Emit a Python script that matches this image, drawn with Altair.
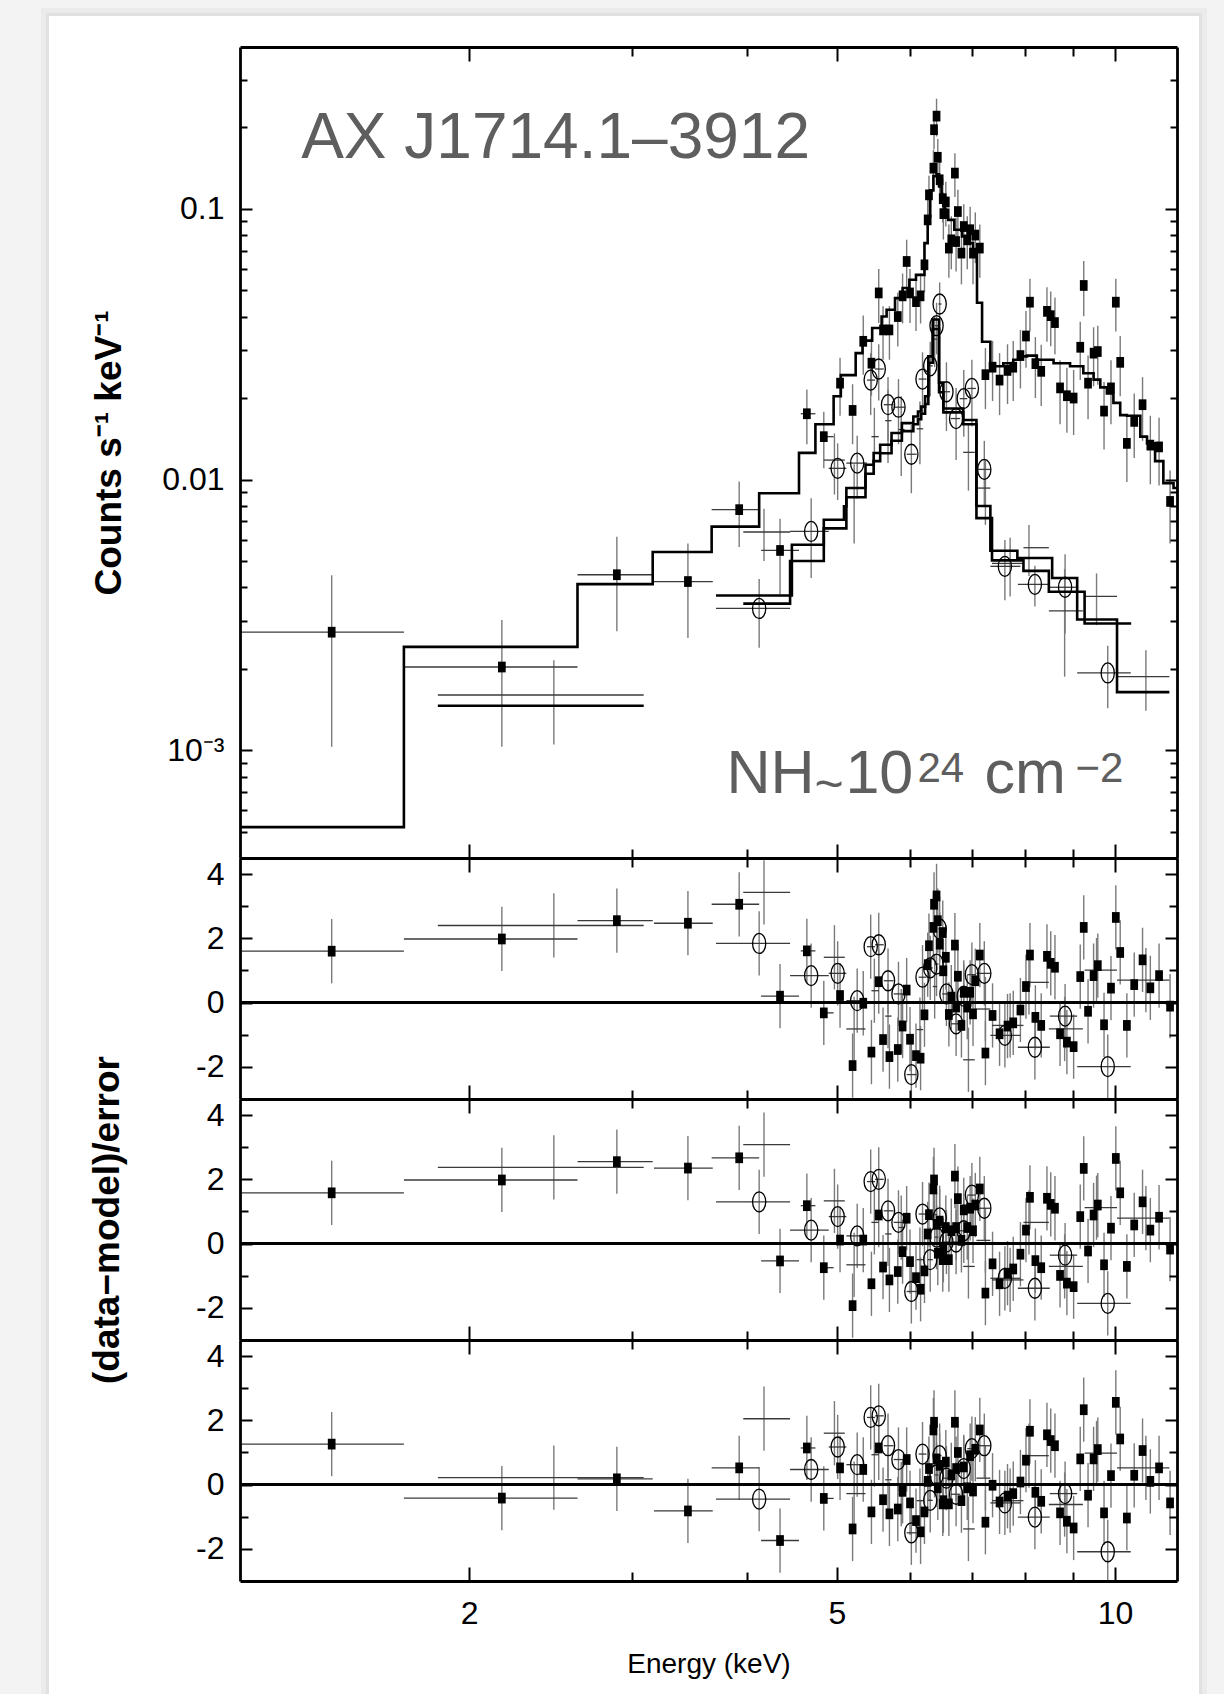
import altair as alt
import pandas as pd

# ---------------------------------------------------------------------------
# Filled squares (detector 1): energy [keV], rate [counts/s/keV], 1-sigma error
# ---------------------------------------------------------------------------
A_E = [1.42, 2.17, 2.89, 3.45, 3.92, 4.34, 4.64, 4.84, 5.04, 5.20,
       5.34, 5.45, 5.55, 5.61, 5.70, 5.82, 5.89, 5.95, 6.00, 6.09,
       6.16, 6.22, 6.27, 6.29, 6.36, 6.37, 6.41, 6.43, 6.46, 6.51,
       6.52, 6.56, 6.61, 6.65, 6.71, 6.73, 6.76, 6.82, 6.86, 6.92,
       6.97, 7.02, 7.06, 7.14, 7.24, 7.37, 7.50, 7.65, 7.76, 7.90,
       8.01, 8.09, 8.20, 8.32, 8.44, 8.52, 8.61, 8.72, 8.87, 9.02,
       9.17, 9.25, 9.35, 9.48, 9.58, 9.73, 9.90, 10.02, 10.13, 10.30,
       10.49, 10.71, 10.92, 11.16, 11.47]
A_RATE = [2.73e-3, 2.03e-3, 4.45e-3, 4.20e-3, 7.74e-3, 5.47e-3, 0.0175, 0.0144, 0.0227, 0.0180,
          0.0324, 0.0269, 0.0489, 0.0357, 0.0357, 0.0400, 0.0477, 0.0639, 0.0489, 0.0454,
          0.0477, 0.0621, 0.0910, 0.1126, 0.1413, 0.1960, 0.2200, 0.1550, 0.1280, 0.1090,
          0.0960, 0.1060, 0.0716, 0.0768, 0.1355, 0.0757, 0.0977, 0.0686, 0.0860, 0.0768,
          0.0837, 0.0686, 0.0800, 0.0716, 0.0244, 0.0260, 0.0233, 0.0253, 0.0260, 0.0287,
          0.0339, 0.0452, 0.0268, 0.0251, 0.0418, 0.0403, 0.0380, 0.0218, 0.0204, 0.0200,
          0.0308, 0.0521, 0.0227, 0.0293, 0.0297, 0.0179, 0.0218, 0.0452, 0.0271, 0.0136,
          0.0164, 0.0189, 0.0134, 0.0132, 0.0083]
A_ERR = [1.7e-3, 1.0e-3, 1.7e-3, 1.6e-3, 2.1e-3, 1.7e-3, 0.0040, 0.0034, 0.0055, 0.0045,
         0.0080, 0.0065, 0.0110, 0.0080, 0.0080, 0.0090, 0.0100, 0.0130, 0.0110, 0.0100,
         0.0100, 0.0130, 0.0170, 0.0200, 0.0240, 0.0300, 0.0350, 0.0260, 0.0230, 0.0200,
         0.0190, 0.0200, 0.0160, 0.0170, 0.0250, 0.0170, 0.0200, 0.0160, 0.0180, 0.0170,
         0.0180, 0.0160, 0.0170, 0.0160, 0.0062, 0.0065, 0.0060, 0.0063, 0.0065, 0.0070,
         0.0080, 0.0100, 0.0068, 0.0064, 0.0095, 0.0092, 0.0090, 0.0058, 0.0055, 0.0054,
         0.0075, 0.0120, 0.0060, 0.0072, 0.0073, 0.0050, 0.0058, 0.0100, 0.0068, 0.0038,
         0.0044, 0.0050, 0.0038, 0.0037, 0.0025]
# channel-bin limits of the wide low-energy bins (first eight squares)
A_XLO = [1.13, 1.70, 2.62, 3.17, 3.66, 4.14, 4.57, 4.80]
A_XHI = [1.70, 2.62, 3.16, 3.67, 4.12, 4.55, 4.74, 4.96]
# (data-model)/error for the three fitted models
A_RES1 = [1.60, 1.98, 2.55, 2.47, 3.06, 0.20, 1.61, -0.32, 0.22, -1.96,
          -0.02, -1.54, 0.65, -1.15, -1.68, -1.46, -0.73, 0.39, -1.14, -1.65,
          -1.73, -0.38, 1.18, 1.77, 2.34, 3.06, 3.32, 2.55, 1.82, 2.18,
          0.99, 1.41, -0.37, 0.17, 1.79, -0.14, 0.82, -0.71, 0.32, -0.14,
          0.32, -0.35, 0.68, 1.48, -1.57, -0.40, -0.97, -0.73, -0.63, -0.23,
          0.50, 1.48, -0.46, -0.71, 1.44, 1.22, 1.10, -0.97, -1.23, -1.37,
          0.81, 2.34, -0.27, 0.84, 1.15, -0.69, 0.45, 2.65, 1.56, -0.71,
          0.56, 1.33, 0.46, 0.84, -0.11]
A_RES2 = [1.58, 1.98, 2.55, 2.35, 2.67, -0.54, 1.18, -0.75, 0.11, -1.93,
          0.11, -1.25, 0.89, -0.73, -1.13, -0.87, -0.25, 0.79, -0.56, -1.06,
          -1.42, -0.85, 0.30, 0.90, 1.70, 1.98, 0.60, -0.30, 0.70, -0.50,
          -0.20, 0.50, -0.50, 0.40, 2.10, 0.50, 1.40, 0.10, 1.05, 0.50,
          1.10, 0.40, 1.20, 1.70, -1.54, -0.63, -1.25, -0.92, -0.79, -0.33,
          0.42, 1.44, -0.53, -0.75, 1.41, 1.22, 1.10, -0.99, -1.23, -1.34,
          0.84, 2.34, -0.23, 0.89, 1.20, -0.66, 0.48, 2.65, 1.58, -0.71,
          0.58, 1.30, 0.42, 0.82, -0.17]
A_RES3 = [1.26, -0.42, 0.18, -0.82, 0.52, -1.74, 1.14, -0.43, 0.52, -1.38,
          0.47, -0.85, 1.14, -0.47, -0.91, -0.76, -0.21, 0.78, -0.57, -1.12,
          -1.47, -0.85, 0.10, 0.50, 1.70, 1.94, 0.80, -0.10, 0.60, -0.60,
          -0.50, 0.70, -0.60, 0.30, 1.94, 0.50, 1.00, -0.50, 0.55, -0.10,
          0.90, -0.20, 1.10, 1.70, -1.17, -0.02, -0.54, -0.36, -0.28, 0.08,
          0.76, 1.66, -0.24, -0.52, 1.55, 1.37, 1.21, -0.88, -1.14, -1.35,
          0.80, 2.33, -0.33, 0.80, 1.09, -0.88, 0.28, 2.56, 1.42, -1.04,
          0.29, 1.06, 0.10, 0.52, -0.57]

# ---------------------------------------------------------------------------
# Open circles (detector 2)
# ---------------------------------------------------------------------------
B_E = [4.12, 4.69, 5.01, 5.26, 5.44, 5.55, 5.68, 5.83, 6.02, 6.19, 6.31,
       6.41, 6.46, 6.57, 6.73, 6.86, 7.00, 7.22, 7.60, 8.19, 8.83, 9.82]
B_RATE = [3.34e-3, 6.43e-3, 0.0110, 0.0115, 0.0233, 0.0256, 0.0189, 0.0185, 0.0124, 0.0235, 0.0263,
          0.0370, 0.0445, 0.0211, 0.0168, 0.0199, 0.0217, 0.0109, 4.78e-3, 4.10e-3, 4.00e-3, 1.93e-3]
B_ERR = [0.95e-3, 2.1e-3, 2.6e-3, 3.0e-3, 6.0e-3, 6.0e-3, 5.0e-3, 5.0e-3, 3.5e-3, 6.0e-3, 6.0e-3,
         8.0e-3, 9.0e-3, 6.0e-3, 5.0e-3, 5.5e-3, 6.0e-3, 3.0e-3, 1.2e-3, 0.7e-3, 1.3e-3, 0.5e-3]
B_XLO = [3.70, 4.45, 4.90, 5.12, 5.39, 5.50, 5.62, 5.76, 5.95, 6.13, 6.27,
         6.38, 6.44, 6.50, 6.64, 6.79, 6.92, 7.08, 7.33, 7.85, 8.50, 9.10]
B_XHI = [4.45, 4.90, 5.12, 5.39, 5.50, 5.62, 5.76, 5.92, 6.10, 6.25, 6.35,
         6.44, 6.49, 6.63, 6.80, 6.92, 7.07, 7.33, 7.90, 8.50, 9.10, 10.40]
B_RES1 = [1.84, 0.84, 0.91, 0.06, 1.74, 1.80, 0.68, 0.27, -2.24, 0.79, 1.08,
          1.20, 2.29, 0.27, -0.66, 0.20, 0.87, 0.91, -1.02, -1.39, -0.42, -1.99]
B_RES2 = [1.30, 0.42, 0.84, 0.24, 1.93, 2.00, 1.02, 0.66, -1.49, 0.92, -0.50,
          0.20, 0.80, 0.05, 0.05, 0.40, 1.51, 1.10, -1.08, -1.39, -0.36, -1.86]
B_RES3 = [-0.45, 0.47, 1.17, 0.62, 2.09, 2.14, 1.21, 0.78, -1.50, 0.95, -0.49,
          0.30, 0.90, 0.20, -0.30, 0.50, 1.12, 1.21, -0.57, -1.01, -0.28, -2.09]

# ---------------------------------------------------------------------------
# Plain crosses (detector 3)
# ---------------------------------------------------------------------------
C_E = [2.47, 4.17, 4.97, 5.22, 5.49, 5.68, 5.87, 6.15, 6.38, 6.94, 7.24, 7.70, 8.07, 8.82, 9.55, 10.80]
C_RATE = [1.60e-3, 6.4e-3, 0.0118, 8.6e-3, 0.0144, 0.0165, 0.0153, 0.0154, 0.0330, 0.0126,
          9.3e-3, 4.9e-3, 5.6e-3, 3.27e-3, 3.7e-3, 1.87e-3]
C_ERR = [0.55e-3, 1.4e-3, 3.0e-3, 2.8e-3, 4.0e-3, 5.0e-3, 5.0e-3, 4.0e-3, 7.0e-3, 3.5e-3,
         2.5e-3, 1.2e-3, 1.2e-3, 1.4e-3, 0.8e-3, 0.47e-3]
C_XLO = [1.85, 3.96, 4.84, 5.12, 5.45, 5.64, 5.83, 6.10, 6.35, 6.85, 7.08, 7.36, 7.96, 8.48, 9.27, 10.05]
C_XHI = [3.09, 4.45, 5.10, 5.37, 5.55, 5.73, 5.92, 6.20, 6.42, 7.05, 7.33, 7.96, 8.48, 9.23, 10.05, 11.45]
C_RES1 = [2.40, 3.43, 1.41, -0.82, 0.37, -0.42, -0.58, -0.84, 0.50, -1.78, -0.20, -0.71, 0.63, -0.82, 1.01, 0.70]
C_RES2 = [2.37, 3.08, 1.33, -0.66, 0.66, 0.30, 0.50, -0.50, 0.90, -0.71, 0.10, -1.13, 0.66, -0.71, 1.12, 0.79]
C_RES3 = [0.22, 2.05, 1.60, -0.28, 0.93, 0.15, -0.30, -0.50, 0.60, -1.38, 0.20, -0.50, 0.90, -0.62, 0.98, 0.52]

# ---------------------------------------------------------------------------
# Folded model spectra: bin edges [keV] and model rate in each bin
# ---------------------------------------------------------------------------
MODEL_A_EDGES = [1.13, 1.70, 2.62, 3.16, 3.66, 4.12, 4.55, 4.74, 4.96, 5.05, 5.24, 5.33, 5.46, 5.59,
                 5.66, 5.78, 5.89, 5.99, 6.09, 6.22, 6.27, 6.31, 6.36, 6.41, 6.45, 6.49, 6.54, 6.60,
                 6.70, 6.83, 6.92, 7.02, 7.09, 7.18, 7.33, 7.57, 7.76, 7.89, 8.03, 8.23, 8.58, 8.94,
                 9.24, 9.48, 9.64, 9.80, 9.96, 10.13, 10.30, 10.65, 10.83, 11.05, 11.28, 11.57, 11.67]
MODEL_A_RATE = [5.2e-4, 2.41e-3, 4.11e-3, 5.4e-3, 6.7e-3, 8.9e-3, 0.01255, 0.016, 0.0203, 0.0243,
                0.0293, 0.0326, 0.0363, 0.040, 0.0424, 0.0468, 0.051, 0.0547, 0.057, 0.0747,
                0.0937, 0.117, 0.132, 0.134, 0.121, 0.110, 0.0992, 0.091, 0.0837, 0.0791,
                0.0747, 0.0706, 0.045, 0.0323, 0.0262, 0.0269, 0.0277, 0.0285, 0.0287, 0.0277,
                0.0269, 0.0262, 0.0247, 0.0234, 0.0219, 0.0208, 0.0192, 0.0173, 0.0172, 0.0144,
                0.0136, 0.0117, 0.0097, 0.0093]
MODEL_B_EDGES = [3.70, 4.47, 4.84, 5.09, 5.12, 5.37, 5.48, 5.57, 5.73, 5.88, 6.05, 6.12, 6.17,
                 6.23, 6.28, 6.35, 6.45, 6.52, 6.85, 7.08, 7.33, 7.84, 8.55, 9.10, 10.05, 11.45]
MODEL_B_RATE = [3.73e-3, 5.74e-3, 7.1e-3, 7.96e-3, 9.3e-3, 0.01134, 0.01253, 0.01344, 0.01486,
                0.01616, 0.0171, 0.01784, 0.0186, 0.0203, 0.0285, 0.039, 0.0228, 0.0183, 0.0166,
                7.98e-3, 5.46e-3, 5.13e-3, 4.33e-3, 3.04e-3, 1.64e-3]
MODEL_C_EDGES = [3.96, 4.45, 4.84, 5.12, 5.37, 5.48, 5.57, 5.73, 5.88, 6.05, 6.12, 6.17, 6.23,
                 6.28, 6.35, 6.45, 6.52, 6.85, 7.08, 7.36, 7.96, 8.48, 9.27, 10.41]
MODEL_C_RATE = [3.48e-3, 5.0e-3, 6.6e-3, 8.6e-3, 0.0105, 0.0117, 0.0125, 0.0139, 0.0151, 0.016,
                0.0167, 0.0175, 0.019, 0.027, 0.036, 0.021, 0.0177, 0.016, 7.2e-3, 5.03e-3,
                4.6e-3, 3.85e-3, 2.94e-3]
MODEL_C_LOW_EDGES = [1.85, 3.09]
MODEL_C_LOW_RATE = [1.46e-3]

# ---------------------------------------------------------------------------
# Axis ticks and annotations
# ---------------------------------------------------------------------------
X_MAJOR = [2, 5, 10]
X_MINOR = [3, 4, 6, 7, 8, 9]
RATE_MAJOR = [0.001, 0.01, 0.1]
RATE_MINOR = [0.0005, 0.0006, 0.0007, 0.0008, 0.0009,
              0.002, 0.003, 0.004, 0.005, 0.006, 0.007, 0.008, 0.009,
              0.02, 0.03, 0.04, 0.05, 0.06, 0.07, 0.08, 0.09, 0.2, 0.3]
RES_MAJOR = [-2, 0, 2, 4]
RES_MINOR = [-1, 1, 3]

SOURCE_NAME = "AX J1714.1–3912"
SOURCE_ANCHOR = (1.316, 0.1543)      # keV, counts/s/keV (left, baseline)
# column-density note, written piece by piece so the exponents sit raised
COLUMN_PARTS = ["NH", "~", "10", "24", "cm", "−2"]
COLUMN_ANCHOR = (3.797, 6.96e-4)     # keV, counts/s/keV (left, baseline)

# ---------------------------------------------------------------------------
# Styling
# ---------------------------------------------------------------------------
SANS = "'Liberation Sans', Arial, Helvetica, sans-serif"
W, H_MAIN, H_RES = 937, 811, 241
FRAME_W = 2.8
VBAR = '#7a7a7a'
HBAR = '#3a3a3a'
NOTE_GREY = '#5e5e5e'
SQUARE = 'M-0.72,-1H0.72V1H-0.72Z'
ELLIPSE = 'M0,-1A0.66,1,0,1,1,0,1A0.66,1,0,1,1,0,-1Z'
# typesetting of the column-density pieces: (dx, dy, font size)
COLUMN_LAYOUT = [(0, 0, 61), (88, 8, 50), (119, 0, 61), (191, -11, 42), (258, 0, 61), (349, -11, 42)]

XS = alt.Scale(type='log', domain=[1.13, 11.67], nice=False)
YS_MAIN = alt.Scale(type='log', domain=[4.0e-4, 0.396], nice=False)
YS_RES = alt.Scale(domain=[-3, 4.5], nice=False, zero=False)

ONE = pd.DataFrame({'k': [0]})


def step_frame(edges, rates, name):
    return pd.DataFrame({'E': list(edges), 'v': list(rates) + [rates[-1]], 'curve': name})


def tick_axis(orient, values, length):
    # inward ticks: the axis line is pulled inside the frame by the tick length
    return alt.Axis(orient=orient, values=values, offset=-length, tickSize=length,
                    tickWidth=2, tickColor='black', labels=False, domain=False,
                    grid=False, title=None, zindex=2)


def frame_axis(orient):
    return alt.Axis(orient=orient, ticks=False, labels=False, domain=True,
                    domainColor='black', domainWidth=FRAME_W, grid=False, title=None,
                    zindex=2)


def y_label_axis(values, expr, title=None, title_x=-120):
    kw = dict(orient='left', values=values, ticks=False, domain=True, domainColor='black',
              domainWidth=FRAME_W, labelExpr=expr, labelFont=SANS, labelFontSize=32,
              labelColor='black', labelPadding=16, labelOverlap=False, labelFlush=False,
              grid=False, zindex=2)
    if title:
        kw.update(title=title, titleFont=SANS, titleFontSize=37, titleFontWeight='bold',
                  titleColor='black', titleX=title_x, titleBaseline='alphabetic')
    else:
        kw.update(title=None)
    return alt.Axis(**kw)


def x_label_axis():
    return alt.Axis(orient='bottom', values=X_MAJOR, ticks=False, domain=True,
                    domainColor='black', domainWidth=FRAME_W,
                    labelExpr="'' + datum.value", labelFont=SANS, labelFontSize=32,
                    labelColor='black', labelPadding=17, labelOverlap=False, labelFlush=False,
                    grid=False, title='Energy (keV)', titleFont=SANS, titleFontSize=28,
                    titleFontWeight='normal', titleColor='black', titleY=91,
                    titleBaseline='alphabetic', zindex=2)


def carriers(ys, yval, y_lab, x_lab, y_major, y_minor, ymaj_len, ymin_len):
    one = pd.DataFrame({'E': [2.0], 'v': [yval]})

    def c(xa, ya):
        return alt.Chart(one).mark_point(opacity=0).encode(
            x=alt.X('E:Q', scale=XS, axis=xa),
            y=alt.Y('v:Q', scale=ys, axis=ya))

    return [
        c(x_lab, y_lab),
        c(frame_axis('top'), frame_axis('right')),
        c(tick_axis('bottom', X_MAJOR, 14), tick_axis('left', y_major, ymaj_len)),
        c(tick_axis('bottom', X_MINOR, 9), tick_axis('left', y_minor, ymin_len)),
        c(tick_axis('top', X_MAJOR, 14), tick_axis('right', y_major, ymaj_len)),
        c(tick_axis('top', X_MINOR, 9), tick_axis('right', y_minor, ymin_len)),
    ]


def vbars(df, lo, hi, ys):
    return alt.Chart(df).mark_rule(color=VBAR, strokeWidth=1.4, clip=True).encode(
        x=alt.X('E:Q', scale=XS, axis=None),
        y=alt.Y(f'{lo}:Q', scale=ys, axis=None), y2=f'{hi}:Q')


def hbars(df, yfield, ys):
    return alt.Chart(df).mark_rule(color=HBAR, strokeWidth=1.3, clip=True).encode(
        x=alt.X('xlo:Q', scale=XS, axis=None), x2='xhi:Q',
        y=alt.Y(f'{yfield}:Q', scale=ys, axis=None))


def squares(df, yfield, ys):
    return alt.Chart(df).mark_point(shape=SQUARE, filled=True, color='black', opacity=1,
                                    size=115, clip=True).encode(
        x=alt.X('E:Q', scale=XS, axis=None), y=alt.Y(f'{yfield}:Q', scale=ys, axis=None))


def circles(df, yfield, ys):
    return alt.Chart(df).mark_point(shape=ELLIPSE, filled=False, color='black', opacity=1,
                                    strokeWidth=1.3, size=400, clip=True).encode(
        x=alt.X('E:Q', scale=XS, axis=None), y=alt.Y(f'{yfield}:Q', scale=ys, axis=None))


# ---------------------------------------------------------------------------
# Tables
# ---------------------------------------------------------------------------
a_df = pd.DataFrame({'E': A_E, 'v': A_RATE, 'err': A_ERR,
                     'r1': A_RES1, 'r2': A_RES2, 'r3': A_RES3})
b_df = pd.DataFrame({'E': B_E, 'v': B_RATE, 'err': B_ERR, 'xlo': B_XLO, 'xhi': B_XHI,
                     'r1': B_RES1, 'r2': B_RES2, 'r3': B_RES3})
c_df = pd.DataFrame({'E': C_E, 'v': C_RATE, 'err': C_ERR, 'xlo': C_XLO, 'xhi': C_XHI,
                     'r1': C_RES1, 'r2': C_RES2, 'r3': C_RES3})
for d in (a_df, b_df, c_df):
    d['lo'] = d['v'] - d['err']
    d['hi'] = d['v'] + d['err']
    for k in ('r1', 'r2', 'r3'):
        d[k + 'lo'] = d[k] - 1
        d[k + 'hi'] = d[k] + 1
a_wide = a_df.iloc[:len(A_XLO)].copy()
a_wide['xlo'] = A_XLO
a_wide['xhi'] = A_XHI

models = pd.concat([
    step_frame(MODEL_A_EDGES, MODEL_A_RATE, 'A'),
    step_frame(MODEL_B_EDGES, MODEL_B_RATE, 'B'),
    step_frame(MODEL_C_EDGES, MODEL_C_RATE, 'C'),
    step_frame(MODEL_C_LOW_EDGES, MODEL_C_LOW_RATE, 'C-low'),
], ignore_index=True)

# ---------------------------------------------------------------------------
# Spectrum panel
# ---------------------------------------------------------------------------
shadow_outer = alt.Chart(ONE).mark_rect(fill='#ebebeb').encode(
    x=alt.value(-199), x2=alt.value(967), y=alt.value(-39), y2=alt.value(1647))
shadow_inner = alt.Chart(ONE).mark_rect(fill='#e1e1e1').encode(
    x=alt.value(-194), x2=alt.value(962), y=alt.value(-34), y2=alt.value(1647))
card = alt.Chart(ONE).mark_rect(fill='white').encode(
    x=alt.value(-191), x2=alt.value(959), y=alt.value(-31), y2=alt.value(1647))

model_lines = alt.Chart(models).mark_line(interpolate='step-after', color='black',
                                          strokeWidth=2.6, clip=True).encode(
    x=alt.X('E:Q', scale=XS, axis=None),
    y=alt.Y('v:Q', scale=YS_MAIN, axis=None),
    detail='curve:N')

src_df = pd.DataFrame({'E': [SOURCE_ANCHOR[0]], 'v': [SOURCE_ANCHOR[1]], 't': [SOURCE_NAME]})
src_text = alt.Chart(src_df).mark_text(align='left', baseline='alphabetic', font=SANS,
                                       fontSize=64, color=NOTE_GREY).encode(
    x=alt.X('E:Q', scale=XS, axis=None), y=alt.Y('v:Q', scale=YS_MAIN, axis=None), text='t:N')

column_texts = []
for part, (dx, dy, fs) in zip(COLUMN_PARTS, COLUMN_LAYOUT):
    pdf = pd.DataFrame({'E': [COLUMN_ANCHOR[0]], 'v': [COLUMN_ANCHOR[1]], 't': [part]})
    column_texts.append(
        alt.Chart(pdf).mark_text(align='left', baseline='alphabetic', font=SANS, fontSize=fs,
                                 dx=dx, dy=dy, color=NOTE_GREY).encode(
            x=alt.X('E:Q', scale=XS, axis=None), y=alt.Y('v:Q', scale=YS_MAIN, axis=None),
            text='t:N'))

rate_expr = "datum.value > 0.05 ? '0.1' : datum.value > 0.005 ? '0.01' : '10⁻³'"

main_layers = [
    shadow_outer, shadow_inner, card,
    vbars(a_df, 'lo', 'hi', YS_MAIN), vbars(b_df, 'lo', 'hi', YS_MAIN), vbars(c_df, 'lo', 'hi', YS_MAIN),
    hbars(a_wide, 'v', YS_MAIN), hbars(b_df, 'v', YS_MAIN), hbars(c_df, 'v', YS_MAIN),
    model_lines,
    squares(a_df, 'v', YS_MAIN), circles(b_df, 'v', YS_MAIN),
    src_text,
] + column_texts + carriers(YS_MAIN, 0.01,
                            y_label_axis(RATE_MAJOR, rate_expr, 'Counts s⁻¹ keV⁻¹', -120),
                            frame_axis('bottom'), RATE_MAJOR, RATE_MINOR, 12, 7)

main = alt.layer(*main_layers).resolve_axis(x='independent', y='independent').properties(
    width=W, height=H_MAIN)

# ---------------------------------------------------------------------------
# Residual panels
# ---------------------------------------------------------------------------
res_expr = "datum.value < 0 ? '-' + abs(datum.value) : '' + datum.value"
zero_df = pd.DataFrame({'r': [0]})


def residual_panel(key, title=None, bottom=False):
    zero = alt.Chart(zero_df).mark_rule(color='black', strokeWidth=3).encode(
        y=alt.Y('r:Q', scale=YS_RES, axis=None))
    layers = [
        vbars(a_df, key + 'lo', key + 'hi', YS_RES),
        vbars(b_df, key + 'lo', key + 'hi', YS_RES),
        vbars(c_df, key + 'lo', key + 'hi', YS_RES),
        hbars(a_wide, key, YS_RES), hbars(b_df, key, YS_RES), hbars(c_df, key, YS_RES),
        zero,
        squares(a_df, key, YS_RES), circles(b_df, key, YS_RES),
    ] + carriers(YS_RES, 0,
                 y_label_axis(RES_MAJOR, res_expr, title, -122),
                 x_label_axis() if bottom else frame_axis('bottom'),
                 RES_MAJOR, RES_MINOR, 12, 8)
    return alt.layer(*layers).resolve_axis(x='independent', y='independent').properties(
        width=W, height=H_RES)


res1 = residual_panel('r1')
res2 = residual_panel('r2', title='(data−model)/error')
res3 = residual_panel('r3', bottom=True)

chart = alt.vconcat(main, res1, res2, res3, spacing=0, bounds='flush').properties(
    background='#f3f3f3',
    padding={'left': 41, 'top': 8, 'right': 17, 'bottom': 0},
).configure_view(strokeWidth=0)

chart.save("out.html", embed_options={"renderer": "svg", "actions": False})
